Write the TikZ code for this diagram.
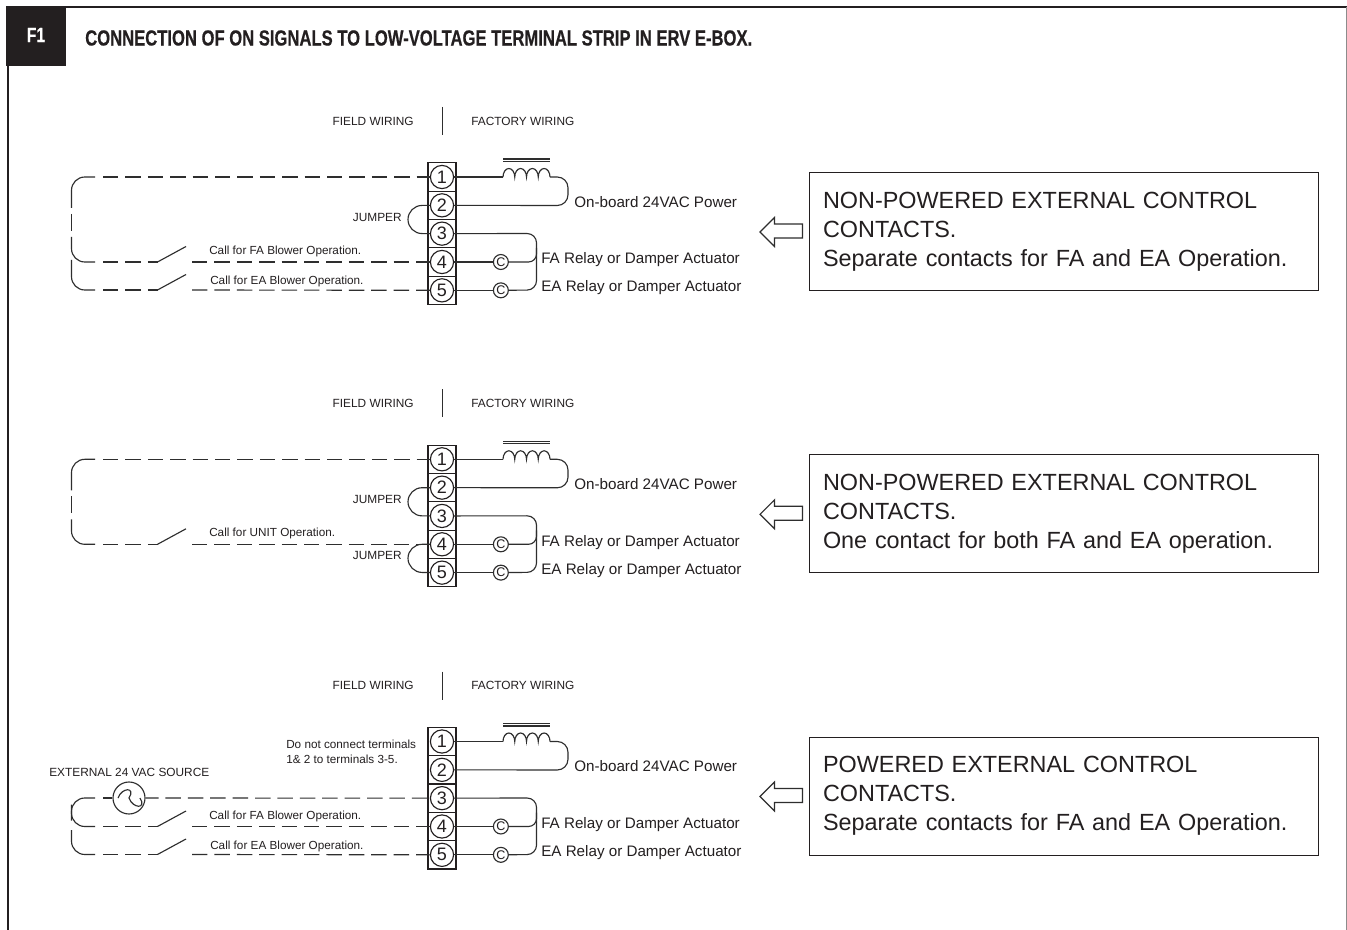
\documentclass[tikz,border=0pt]{standalone}
\usepackage{fontspec}
\setmainfont{Liberation Sans}
\newfontfamily\titlefont[FakeStretch=0.76,BoldFeatures={FakeBold=0.5}]{Liberation Sans}
\usetikzlibrary{positioning}
\definecolor{ink}{HTML}{231F20}
\definecolor{wire}{HTML}{2E2E2E}
\newcommand\wiringpanel[1]{
    \node(fld)[lab, anchor=east] at (414,121) {FIELD WIRING};
    \node(fac)[lab, anchor=west] at (471,121) {FACTORY WIRING};
    \draw[ln] (442.5,107) -- (442.5,135);
    % terminal strip
    \node(c1)[cell] at (442,177) {};
    \node(c2)[cell, below=0 of c1] {};
    \node(c3)[cell, below=0 of c2] {};
    \node(c4)[cell, below=0 of c3] {};
    \node(c5)[cell, below=0 of c4] {};
    \node(t1)[term] at (c1) {1};
    \node(t2)[term] at (c2) {2};
    \node(t3)[term] at (c3) {3};
    \node(t4)[term] at (c4) {4};
    \node(t5)[term] at (c5) {5};
    % transformer
    \coordinate(k1) at (503,177);
    \coordinate(k2) at (550,177);
    \draw[ln] (t1) -- (k1);
    \draw[ln] (k1) \foreach \i in {1,2,3,4} {arc[start angle=180, end angle=360, x radius=5.875, y radius=8.5]};
    \draw[ln] (503,159) -- (550,159);
    \draw[ln] (503,161.5) -- (550,161.5);
    \draw[ln, rounded corners=8pt] (k2) -- (568,177) -- (568,205.5) -- (t2);
    % relays
    \node(r4)[relay, right=29pt of t4] {C};
    \node(r5)[relay, right=29pt of t5] {C};
    \draw[ln] (t4) -- (r4);
    \draw[ln] (t5) -- (r5);
    \draw[ln, rounded corners=7pt] (t3) -- (536.5,233.5) -- (536.5,290) -- (r5);
    \draw[ln, rounded corners=6pt] (r4) -- (536.5,262) -- (536.5,248);
    \node(pw)[txt, anchor=west] at (574,202) {On-board 24VAC Power};
    \node(fa)[txt, anchor=west] at (541,260) {FA Relay or Damper Actuator};
    \node(ea)[txt, anchor=west] at (541,288) {EA Relay or Damper Actuator};
    % note
    \draw[ln, fill=white] (760,232) -- (774.5,217.5) -- (774.5,224) -- (802.5,224) -- (802.5,238) -- (774.5,238) -- (774.5,246.5) -- cycle;
    \node(box)[notebox] at (1063.5,231.5) {#1};
}
% one contact: switch blade and the dashes before it
\newcommand\contactwire[2]{
    \coordinate(#1a) at (95,#2);
    \coordinate(#1b) at (103,#2);
    \coordinate(#1s) at (157.5,#2);
    \coordinate(#1f) at (186,#2-15.5);
    \coordinate(#1g) at (192,#2);
    \draw[fw] (#1b) -- (#1s);
    \draw[ln] (#1s) -- (#1f);
}
\begin{document}
\begin{tikzpicture}[x=0.75pt,y=-0.75pt,
        ln/.style={draw=wire,line width=0.85pt},
        fw/.style={ln,dash pattern=on 11.6pt off 5.2pt},
        sweep/.style={ln,rounded corners=10pt},
        lab/.style={inner sep=0,text=ink,font=\fontsize{8.9}{11}\selectfont},
        call/.style={inner sep=0,text=ink,font=\fontsize{8.8}{11}\selectfont},
        txt/.style={inner sep=0,text=ink,font=\fontsize{11.4}{14}\selectfont},
        cell/.style={draw=ink,line width=0.8pt,minimum width=21pt,minimum height=21.25pt,inner sep=0,outer sep=0},
        term/.style={draw=ink,line width=0.85pt,circle,minimum size=17.4pt,inner sep=0,text=ink,font=\fontsize{13.5}{14}\selectfont},
        relay/.style={ln,circle,minimum size=11.2pt,inner sep=0,text=ink,font=\fontsize{9.4}{10}\selectfont},
        notebox/.style={draw=ink,line width=0.7pt,minimum width=381.75pt,minimum height=88.5pt,text width=360.75pt,
            inner xsep=10.5pt,inner ysep=0,align=left,text=ink,font=\fontsize{17.55}{21.75}\selectfont}]
    \useasboundingbox (0,0) rectangle (1347,930);
    \fill[white] (0,0) rectangle (1347,930);
    % frame
    \draw[draw=ink, line width=1.7pt] (66,7.2) -- (1347,7.2);
    \draw[draw=ink, line width=1.7pt] (7.8,66) -- (7.8,930);
    \draw[draw=black!45, line width=0.6pt] (1346.5,7) -- (1346.5,930);
    \node(tag)[fill=ink, minimum size=45pt, inner sep=0, text=white, font=\titlefont\bfseries\fontsize{15.5}{16}\selectfont] at (36,36) {\raisebox{1.5pt}{F1}};
    \node(title)[anchor=west, inner sep=0, text=ink, font=\titlefont\bfseries\fontsize{16.4}{18}\selectfont] at (85,38)
        {CONNECTION OF ON SIGNALS TO LOW-VOLTAGE TERMINAL STRIP IN ERV E-BOX.};

    \begin{scope}[name prefix=a-]
        \wiringpanel{NON-POWERED EXTERNAL CONTROL\\CONTACTS.\\Separate contacts for FA and EA Operation.}
        \node(jmp)[lab, anchor=east] at (402,217.5) {JUMPER};
        \draw[ln, rounded corners=10.5pt] (t2) -- (408,205.5) -- (408,233.5) -- (t3);
        \contactwire{u}{262}
        \contactwire{v}{290}
        \coordinate(p1) at (95,177);
        \coordinate(p2) at (103,177);
        \draw[fw] (p2) -- (t1);
        \draw[sweep] (p1) -- (71.5,177) -- (71.5,208);
        \draw[ln] (71.5,214) -- (71.5,231);
        \draw[sweep] (71.5,237) -- (71.5,262) -- (ua);
        \draw[fw] (ug) -- (t4);
        \draw[sweep] (71.5,260) -- (71.5,290) -- (va);
        \draw[fw] (vg) -- (t5);
        \node(cfa)[call, anchor=west] at (209,251.5) {Call for FA Blower Operation.};
        \node(cea)[call, anchor=west] at (210,281.5) {Call for EA Blower Operation.};
    \end{scope}

    \begin{scope}[name prefix=b-, shift={(0,282.3)}]
        \wiringpanel{NON-POWERED EXTERNAL CONTROL\\CONTACTS.\\One contact for both FA and EA operation.}
        \node(jmp)[lab, anchor=east] at (402,217.5) {JUMPER};
        \draw[ln, rounded corners=10.5pt] (t2) -- (408,205.5) -- (408,233.5) -- (t3);
        \node(jmq)[lab, anchor=east] at (402,273.5) {JUMPER};
        \draw[ln, rounded corners=10.5pt] (t4) -- (408,262) -- (408,290) -- (t5);
        \contactwire{u}{262}
        \coordinate(p1) at (95,177);
        \coordinate(p2) at (103,177);
        \draw[fw] (p2) -- (t1);
        \draw[sweep] (p1) -- (71.5,177) -- (71.5,208);
        \draw[ln] (71.5,214) -- (71.5,231);
        \draw[sweep] (71.5,237) -- (71.5,262) -- (ua);
        \draw[fw] (ug) -- (t4);
        \node(cun)[call, anchor=west] at (209,251.5) {Call for UNIT Operation.};
    \end{scope}

    \begin{scope}[name prefix=c-, shift={(0,564.5)}]
        \wiringpanel{POWERED EXTERNAL CONTROL\\CONTACTS.\\Separate contacts for FA and EA Operation.}
        \node(nt)[call, anchor=north west, align=left, font=\fontsize{8.8}{11.2}\selectfont] at (286,175.5) {Do not connect terminals\\1\& 2 to terminals 3-5.};
        \node(ext)[lab, anchor=west] at (49,207.5) {EXTERNAL 24 VAC SOURCE};
        \node(src)[ln, circle, minimum size=24pt, inner sep=0] at (129,233.5) {};
        \draw[ln] (src) ++(-11,0) .. controls +(4,-11) and +(7,-11) .. ++(11,0) .. controls +(4,11) and +(7,11) .. ++(11,0);
        \contactwire{u}{262}
        \contactwire{v}{290}
        \coordinate(p1) at (95,233.5);
        \coordinate(p2) at (103,233.5);
        \draw[fw] (p2) -- (src);
        \draw[fw, dash phase=1.9pt] (src) -- (t3);
        \draw[sweep] (p1) -- (71.5,233.5) -- (71.5,256);
        \draw[sweep] (71.5,240) -- (71.5,262) -- (ua);
        \draw[fw] (ug) -- (t4);
        \draw[sweep] (71.5,265.5) -- (71.5,290) -- (va);
        \draw[fw] (vg) -- (t5);
        \node(cfa)[call, anchor=west] at (209,251.5) {Call for FA Blower Operation.};
        \node(cea)[call, anchor=west] at (210,281.5) {Call for EA Blower Operation.};
    \end{scope}
\end{tikzpicture}
\end{document}
